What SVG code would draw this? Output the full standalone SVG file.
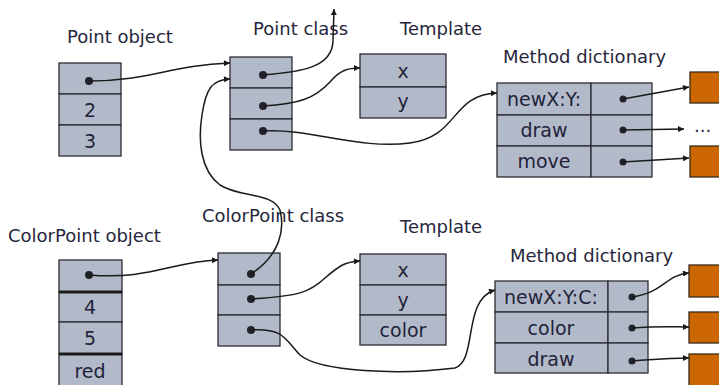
<svg xmlns="http://www.w3.org/2000/svg" width="719" height="385" viewBox="0 0 719 385">
  <defs>
    <marker id="ah" viewBox="0 0 10 10" refX="10" refY="5" markerWidth="7" markerHeight="6" orient="auto" markerUnits="userSpaceOnUse">
      <path d="M0,0 L10,5 L0,10 z" fill="#1a1a1a"/>
    </marker>
    <style>
      .cell { fill: #b2bac9; stroke: #2b2b33; stroke-width: 1.3; }
      .thick { stroke: #1a1a1a; stroke-width: 3; }
      .meth { fill: #cc6600; stroke: #3a2a1a; stroke-width: 1.3; }
      .lbl { font-family: "DejaVu Sans", "Liberation Sans", sans-serif; font-size: 18px; fill: #26263c; }
      .cv { font-family: "DejaVu Sans", "Liberation Sans", sans-serif; font-size: 19px; fill: #22223a; text-anchor: middle; }
      .dot { fill: #22222a; }
      .wire { fill: none; stroke: #1a1a1a; stroke-width: 1.5; marker-end: url(#ah); }
    </style>
  </defs>

  <rect width="719" height="385" fill="#ffffff"/>

  <!-- Point object -->
  <g id="point-object">
    <text class="lbl" x="67" y="43">Point object</text>
    <rect class="cell" x="59" y="63" width="62" height="31"/>
    <rect class="cell" x="59" y="94" width="62" height="31"/>
    <rect class="cell" x="59" y="125" width="62" height="31"/>
    <circle class="dot" cx="89" cy="81" r="4"/>
    <text class="cv" x="90" y="117">2</text>
    <text class="cv" x="90" y="148">3</text>
  </g>

  <!-- Point class -->
  <g id="point-class">
    <text class="lbl" x="253" y="35">Point class</text>
    <rect class="cell" x="230" y="57" width="62" height="31"/>
    <rect class="cell" x="230" y="88" width="62" height="31"/>
    <rect class="cell" x="230" y="119" width="62" height="31"/>
    <circle class="dot" cx="263" cy="75" r="4"/>
    <circle class="dot" cx="263" cy="106" r="4"/>
    <circle class="dot" cx="263" cy="131" r="4"/>
  </g>

  <!-- Point template -->
  <g id="point-template">
    <text class="lbl" x="400" y="35">Template</text>
    <rect class="cell" x="360" y="54" width="86" height="33"/>
    <rect class="cell" x="360" y="87" width="86" height="31"/>
    <text class="cv" x="403" y="78">x</text>
    <text class="cv" x="403" y="108">y</text>
  </g>

  <!-- Point method dictionary -->
  <g id="point-methods">
    <text class="lbl" x="503" y="63">Method dictionary</text>
    <rect class="cell" x="497" y="83" width="94" height="32"/>
    <rect class="cell" x="591" y="83" width="61" height="32"/>
    <rect class="cell" x="497" y="115" width="94" height="31"/>
    <rect class="cell" x="591" y="115" width="61" height="31"/>
    <rect class="cell" x="497" y="146" width="94" height="31"/>
    <rect class="cell" x="591" y="146" width="61" height="31"/>
    <text class="cv" x="544" y="106">newX:Y:</text>
    <text class="cv" x="544" y="137">draw</text>
    <text class="cv" x="544" y="168">move</text>
    <circle class="dot" cx="623" cy="99" r="3.5"/>
    <circle class="dot" cx="623" cy="130" r="3.5"/>
    <circle class="dot" cx="623" cy="162" r="3.5"/>
  </g>

  <g id="point-code">
    <rect class="meth" x="690" y="72" width="32" height="31"/>
    <text class="lbl" x="694" y="132">...</text>
    <rect class="meth" x="690" y="146" width="32" height="31"/>
  </g>

  <!-- ColorPoint object -->
  <g id="colorpoint-object">
    <text class="lbl" x="8" y="242">ColorPoint object</text>
    <rect class="cell" x="59" y="260" width="63" height="32"/>
    <rect class="cell" x="59" y="292" width="63" height="30"/>
    <rect class="cell" x="59" y="322" width="63" height="32"/>
    <rect class="cell" x="59" y="354" width="63" height="40"/>
    <line class="thick" x1="59" y1="292" x2="122" y2="292"/>
    <line class="thick" x1="59" y1="354" x2="122" y2="354"/>
    <circle class="dot" cx="89" cy="275" r="4"/>
    <text class="cv" x="90" y="314">4</text>
    <text class="cv" x="90" y="345">5</text>
    <text class="cv" x="90" y="378">red</text>
  </g>

  <!-- ColorPoint class -->
  <g id="colorpoint-class">
    <text class="lbl" x="202" y="222">ColorPoint class</text>
    <rect class="cell" x="218" y="253" width="62" height="32"/>
    <rect class="cell" x="218" y="285" width="62" height="30"/>
    <rect class="cell" x="218" y="315" width="62" height="31"/>
    <circle class="dot" cx="251" cy="274" r="4"/>
    <circle class="dot" cx="251" cy="299" r="4"/>
    <circle class="dot" cx="251" cy="330" r="4"/>
  </g>

  <!-- ColorPoint template -->
  <g id="colorpoint-template">
    <text class="lbl" x="400" y="233">Template</text>
    <rect class="cell" x="360" y="254" width="86" height="31"/>
    <rect class="cell" x="360" y="285" width="86" height="30"/>
    <rect class="cell" x="360" y="315" width="86" height="30"/>
    <text class="cv" x="403" y="277">x</text>
    <text class="cv" x="403" y="307">y</text>
    <text class="cv" x="403" y="337">color</text>
  </g>

  <!-- ColorPoint method dictionary -->
  <g id="colorpoint-methods">
    <text class="lbl" x="510" y="262">Method dictionary</text>
    <rect class="cell" x="495" y="281" width="113" height="31"/>
    <rect class="cell" x="608" y="281" width="40" height="31"/>
    <rect class="cell" x="495" y="312" width="113" height="31"/>
    <rect class="cell" x="608" y="312" width="40" height="31"/>
    <rect class="cell" x="495" y="343" width="113" height="30"/>
    <rect class="cell" x="608" y="343" width="40" height="30"/>
    <text class="cv" x="551" y="304">newX:Y:C:</text>
    <text class="cv" x="551" y="335">color</text>
    <text class="cv" x="551" y="366">draw</text>
    <circle class="dot" cx="632" cy="297" r="3.5"/>
    <circle class="dot" cx="632" cy="328" r="3.5"/>
    <circle class="dot" cx="632" cy="361" r="3.5"/>
  </g>

  <g id="colorpoint-code">
    <rect class="meth" x="689" y="265" width="33" height="32"/>
    <rect class="meth" x="689" y="312" width="33" height="31"/>
    <rect class="meth" x="689" y="354" width="33" height="40"/>
  </g>

  <!-- pointers -->
  <g id="connectors">
    <path class="wire" d="M89,81 C150,81 170,65 230,63"/>
    <path class="wire" d="M263,75 C300,72 333,68 333,40 L334,9"/>
    <path class="wire" d="M263,106 C300,104 315,98 330,82 C340,70 348,68 360,68"/>
    <path class="wire" d="M263,131 C310,128 360,150 410,143 C460,136 450,95 497,93"/>
    <path class="wire" d="M251,274 C280,255 285,230 280,210 C272,192 240,198 220,185 C200,170 198,140 202,115 C206,88 212,80 230,79"/>
    <path class="wire" d="M89,275 C150,280 170,262 218,260"/>
    <path class="wire" d="M251,299 C300,296 310,292 325,278 C340,265 345,262 360,261"/>
    <path class="wire" d="M251,330 C285,328 285,340 300,355 C320,372 400,375 455,368 C478,360 462,300 495,290"/>
    <path class="wire" d="M623,99 L689,87"/>
    <path class="wire" d="M623,130 L684,129"/>
    <path class="wire" d="M623,162 L689,158"/>
    <path class="wire" d="M632,297 C665,292 665,275 689,273"/>
    <path class="wire" d="M632,328 C660,326 670,327 689,327"/>
    <path class="wire" d="M632,361 C660,359 670,358 689,358"/>
  </g>
</svg>
